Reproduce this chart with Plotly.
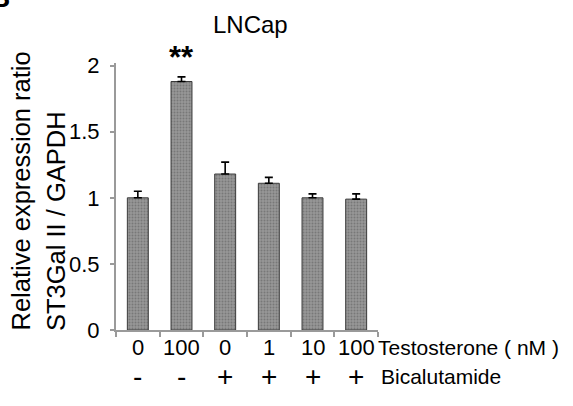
import plotly.graph_objects as go

# ---- data ----
testosterone_nM = ["0", "100", "0", "1", "10", "100"]
bicalutamide = ["-", "-", "+", "+", "+", "+"]
expression_ratio = [1.00, 1.88, 1.18, 1.11, 1.00, 0.99]
error_upper = [0.05, 0.035, 0.09, 0.045, 0.03, 0.04]
significance = ["", "**", "", "", "", ""]
y_ticks = [0, 0.5, 1, 1.5, 2]
y_tick_labels = ["0", "0.5", "1", "1.5", "2"]

x_pos = list(range(len(expression_ratio)))

W, H = 573, 406
ML, MR, MT, MB = 116, 195, 63, 76
PW, PH = W - ML - MR, H - MT - MB

def px_x(px):
    return (px - ML) / PW

def px_y(py):
    return (H - MB - py) / PH

FONT = "Liberation Sans, Arial, sans-serif"

fig = go.Figure()
fig.add_trace(go.Bar(
    x=x_pos,
    y=expression_ratio,
    width=0.48,
    marker=dict(
        color="#8e8e8e",
        line=dict(color="#3a3a3a", width=1),
        pattern=dict(shape=".", bgcolor="#979797", fgcolor="#5a5a5a", size=3, solidity=0.35),
    ),
    error_y=dict(type="data", array=error_upper, arrayminus=[0] * len(error_upper),
                 symmetric=False, color="black", thickness=1.6, width=4),
    showlegend=False,
    hoverinfo="skip",
))

annotations = []
# significance stars
for i, s in enumerate(significance):
    if s:
        annotations.append(dict(x=x_pos[i], y=expression_ratio[i] + error_upper[i] + 0.1,
                                xref="x", yref="y", text="<b>" + s + "</b>", showarrow=False,
                                font=dict(family=FONT, size=31, color="black"),
                                xanchor="center", yanchor="middle", yshift=6))
# testosterone row (category labels)
for i, s in enumerate(testosterone_nM):
    annotations.append(dict(x=x_pos[i], y=px_y(347), xref="x", yref="paper", text=s,
                            showarrow=False, font=dict(family=FONT, size=22, color="black"),
                            xanchor="center", yanchor="middle"))
# bicalutamide row
for i, s in enumerate(bicalutamide):
    annotations.append(dict(x=x_pos[i], y=px_y(376), xref="x", yref="paper", text=s,
                            showarrow=False, font=dict(family=FONT, size=28, color="black"),
                            xanchor="center", yanchor="middle"))
annotations += [
    dict(x=px_x(376), y=px_y(347), xref="paper", yref="paper", text="Testosterone ( nM )",
         showarrow=False, font=dict(family=FONT, size=21, color="black"),
         xanchor="left", yanchor="middle"),
    dict(x=px_x(379), y=px_y(376), xref="paper", yref="paper", text="Bicalutamide",
         showarrow=False, font=dict(family=FONT, size=21, color="black"),
         xanchor="left", yanchor="middle"),
    dict(x=px_x(250), y=px_y(24), xref="paper", yref="paper", text="LNCap",
         showarrow=False, font=dict(family=FONT, size=24, color="black"),
         xanchor="center", yanchor="middle"),
    dict(x=px_x(20), y=px_y(333), xref="paper", yref="paper", text="Relative expression ratio",
         showarrow=False, textangle=-90, font=dict(family=FONT, size=25.5, color="black"),
         xanchor="center", yanchor="bottom"),
    dict(x=px_x(56), y=px_y(333), xref="paper", yref="paper", text="ST3Gal II / GAPDH",
         showarrow=False, textangle=-90, font=dict(family=FONT, size=25.5, color="black"),
         xanchor="center", yanchor="bottom"),
    dict(x=px_x(12), y=px_y(15), xref="paper", yref="paper", text="<b>B</b>",
         showarrow=False, font=dict(family=FONT, size=28, color="black"),
         xanchor="right", yanchor="bottom"),
]

fig.update_layout(
    width=W, height=H,
    margin=dict(l=ML, r=MR, t=MT, b=MB, pad=0),
    paper_bgcolor="white", plot_bgcolor="white",
    font=dict(family=FONT, color="black"),
    annotations=annotations,
)
fig.update_xaxes(
    range=[-0.5, len(x_pos) - 0.5],
    showticklabels=False, ticks="",
    showline=True, linecolor="#9a9a9a", linewidth=2,
    showgrid=False, zeroline=False,
    minor=dict(ticks="outside", tick0=-0.5, dtick=1, ticklen=5, tickcolor="#9a9a9a", tickwidth=1.5),
)
fig.update_yaxes(
    range=[0, 2.02],
    tickmode="array", tickvals=y_ticks, ticktext=y_tick_labels,
    ticks="outside", ticklen=4, tickcolor="#9a9a9a", tickwidth=1.5,
    tickfont=dict(size=22, family=FONT),
    showline=True, linecolor="#9a9a9a", linewidth=2,
    showgrid=False, zeroline=False,
    ticklabelstandoff=6,
)

fig.write_html("out.html", config={"displayModeBar": False},
               post_script="document.body.style.margin='0';")
